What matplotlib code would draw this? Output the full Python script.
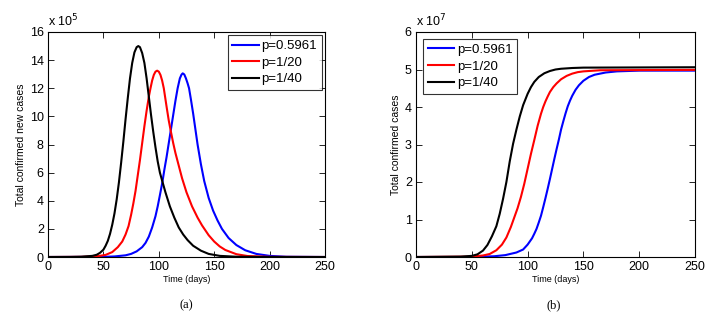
import matplotlib
matplotlib.use("Agg")
from matplotlib import pyplot as plt

plt.rcParams['font.family'] = ['Liberation Sans', 'DejaVu Sans']

labels = ['p=0.5961', 'p=1/20', 'p=1/40']
colors = ['#0000ff', '#ff0000', '#000000']

# (a) new cases per day, units of 1e5
blue_new_t = [0, 50, 60, 70, 75, 80, 85, 88, 91, 94, 97, 99, 101, 103.3, 105, 107, 109, 111,
              113, 115, 117, 119, 120.5, 121.6, 123, 124.5, 126, 127.3, 129, 131, 133, 135,
              138, 141, 145, 149, 153, 157, 163, 170, 178, 188, 200, 215, 250]
blue_new = [0, 0.01, 0.04, 0.12, 0.22, 0.4, 0.7, 1.0, 1.45, 2.1, 2.9, 3.6, 4.4, 5.35, 6.2,
            7.1, 8.1, 9.1, 10.1, 11.1, 12.0, 12.7, 12.97, 13.06, 12.98, 12.7, 12.35, 12.0,
            11.2, 10.2, 9.1, 8.0, 6.6, 5.4, 4.2, 3.3, 2.6, 2.0, 1.35, 0.85, 0.48, 0.22,
            0.08, 0.02, 0]

red_new_t = [0, 30, 45, 52, 58, 63, 67, 70, 72.7, 75, 77, 79, 81, 83, 85, 87, 89, 91, 92.5,
             94, 95.5, 97, 98.5, 100, 101.5, 103, 104.5, 107, 109, 110.7, 113, 115, 118, 121,
             125, 130, 135, 139, 145, 150, 155, 160, 170, 180, 200, 250]
red_new = [0, 0.01, 0.06, 0.15, 0.35, 0.7, 1.1, 1.6, 2.2, 3.0, 3.8, 4.7, 5.8, 6.9, 8.1, 9.3,
           10.4, 11.4, 12.0, 12.55, 12.95, 13.18, 13.25, 13.18, 12.95, 12.55, 12.0, 10.7,
           9.7, 9.0, 8.1, 7.4, 6.5, 5.6, 4.6, 3.6, 2.8, 2.25, 1.55, 1.1, 0.75, 0.5, 0.2,
           0.07, 0.01, 0]

black_new_t = [0, 20, 30, 40, 44, 47, 50, 52, 54, 56, 58, 60, 62, 64, 66, 68, 70, 72, 74, 76,
               78, 80, 81.5, 83, 85, 87, 89, 91, 93, 95, 97, 99, 101, 103.3, 106, 110, 114,
               118, 122, 126, 131, 138, 145, 155, 170, 200, 250]
black_new = [0, 0.005, 0.02, 0.08, 0.16, 0.3, 0.52, 0.8, 1.15, 1.65, 2.3, 3.1, 4.1, 5.3, 6.7,
             8.2, 9.8, 11.3, 12.7, 13.8, 14.55, 14.92, 15.0, 14.92, 14.5, 13.8, 12.7, 11.4,
             10.1, 8.9, 7.8, 6.8, 6.0, 5.35, 4.6, 3.6, 2.8, 2.1, 1.6, 1.2, 0.8, 0.45, 0.22,
             0.08, 0.02, 0, 0]

# (b) cumulative cases, units of 1e7
blue_cum_t = [0, 50, 70, 80, 90, 96, 100, 104, 106, 108, 110, 112, 114, 116, 118, 120, 122,
              124, 126, 128, 130, 132, 134, 136, 138, 140, 143, 146, 150, 155, 160, 170, 180,
              200, 250]
blue_cum = [0, 0, 0.02, 0.05, 0.12, 0.2, 0.33, 0.5, 0.62, 0.75, 0.92, 1.1, 1.33, 1.57, 1.82,
            2.08, 2.35, 2.62, 2.88, 3.13, 3.4, 3.62, 3.83, 4.02, 4.17, 4.3, 4.46, 4.58, 4.7,
            4.8, 4.86, 4.92, 4.95, 4.97, 4.97]

red_cum_t = [0, 50, 60, 66, 72, 77, 81, 85, 88, 91, 94, 97, 100, 103, 106, 109, 112, 114,
             116, 118, 120, 123, 126, 130, 135, 140, 145, 150, 165, 250]
red_cum = [0, 0.01, 0.04, 0.08, 0.18, 0.33, 0.52, 0.8, 1.05, 1.3, 1.6, 1.95, 2.35, 2.75,
           3.12, 3.5, 3.82, 4.0, 4.15, 4.28, 4.4, 4.53, 4.63, 4.74, 4.83, 4.89, 4.93, 4.95,
           4.98, 4.99]

black_cum_t = [0, 40, 50, 55, 60, 64, 68, 72, 75, 78, 81, 84, 87, 90, 93, 96, 98, 100, 103,
               106, 110, 115, 120, 125, 130, 140, 150, 250]
black_cum = [0, 0.01, 0.03, 0.07, 0.17, 0.32, 0.55, 0.82, 1.15, 1.55, 2.0, 2.55, 3.02, 3.4,
             3.75, 4.05, 4.2, 4.35, 4.53, 4.67, 4.8, 4.9, 4.96, 5.0, 5.02, 5.04, 5.05, 5.06]

fig = plt.figure(figsize=(7.12, 3.2), dpi=100)
ax1 = fig.add_axes([48/712, 63/320, 277/712, 225/320])
ax2 = fig.add_axes([416/712, 63/320, 279/712, 225/320])


def style(ax, ymax, ystep, ylabel, power):
    ax.set_xlim(0, 250)
    ax.set_ylim(0, ymax)
    ax.set_xticks(range(0, 251, 50))
    ax.set_yticks(range(0, ymax + 1, ystep))
    ax.tick_params(direction='in', top=True, right=True, length=4, width=0.6,
                   labelsize=9, pad=3)
    for s in ax.spines.values():
        s.set_linewidth(0.8)
    ax.set_xlabel('Time (days)', fontsize=6.5, labelpad=1)
    ax.set_ylabel(ylabel, fontsize=7.5, labelpad=3)
    ax.text(0, 1.012, r'x 10$^{%d}$' % power, transform=ax.transAxes, fontsize=9,
            ha='left', va='bottom')


legend_kw = dict(fontsize=9.5, frameon=True, fancybox=False, edgecolor='black',
                 handlelength=2.0, borderpad=0.35, labelspacing=0.33, handletextpad=0.2)

ax1.plot(blue_new_t, blue_new, color=colors[0], lw=1.5, label=labels[0])
ax1.plot(red_new_t, red_new, color=colors[1], lw=1.5, label=labels[1])
ax1.plot(black_new_t, black_new, color=colors[2], lw=1.5, label=labels[2])
style(ax1, 16, 2, 'Total confirmed new cases', 5)
ax1.legend(loc='upper right', borderaxespad=0.25, **legend_kw).get_frame().set_linewidth(0.8)

ax2.plot(blue_cum_t, blue_cum, color=colors[0], lw=1.5, label=labels[0])
ax2.plot(red_cum_t, red_cum, color=colors[1], lw=1.5, label=labels[1])
ax2.plot(black_cum_t, black_cum, color=colors[2], lw=1.5, label=labels[2])
style(ax2, 6, 1, 'Total confirmed cases', 7)
ax2.legend(loc='upper left', borderaxespad=0.55, **legend_kw).get_frame().set_linewidth(0.8)

fig.text(186/712, 1 - 305/320, '(a)', family='Liberation Serif', fontsize=9,
         ha='center', va='center')
fig.text(554/712, 1 - 305/320, '(b)', family='Liberation Serif', fontsize=9,
         ha='center', va='center')

fig.savefig('out.png', dpi=100)
